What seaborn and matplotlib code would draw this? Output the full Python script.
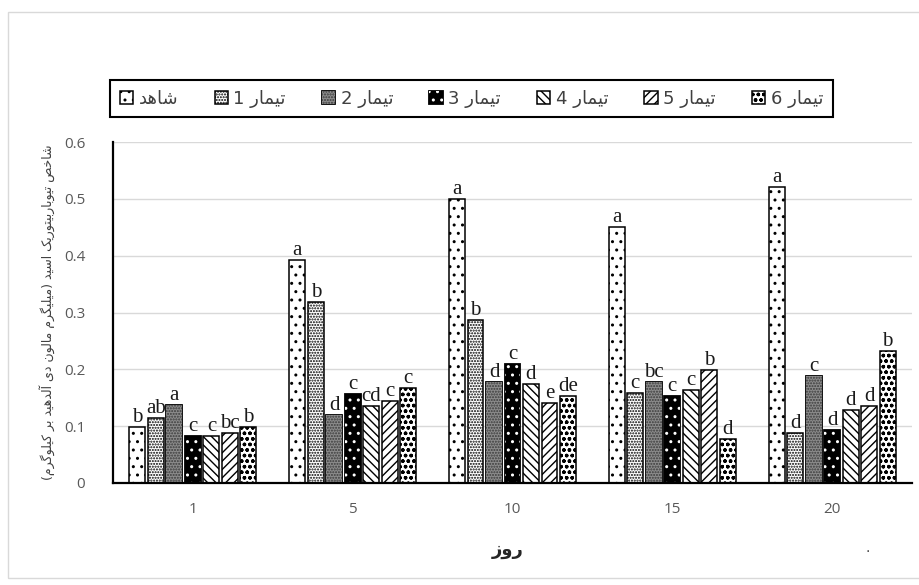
import numpy as np
import pandas as pd
import matplotlib
matplotlib.use('Agg')
import matplotlib.pyplot as plt
import matplotlib.patches as mpatches
import matplotlib.patheffects as pe
import seaborn as sns

# data
days = ['1', '5', '10', '15', '20']
treatments = ['شاهد', 'تیمار 1', 'تیمار 2', 'تیمار 3', 'تیمار 4', 'تیمار 5', 'تیمار 6']
control = [0.098, 0.392, 0.500, 0.451, 0.521]
t1 = [0.115, 0.318, 0.287, 0.158, 0.088]
t2 = [0.137, 0.120, 0.178, 0.177, 0.188]
t3 = [0.083, 0.157, 0.210, 0.153, 0.094]
t4 = [0.083, 0.136, 0.175, 0.163, 0.129]
t5 = [0.088, 0.145, 0.140, 0.198, 0.136]
t6 = [0.098, 0.168, 0.153, 0.078, 0.233]
letters = {
    'شاهد': ['b', 'a', 'a', 'a', 'a'],
    'تیمار 1': ['ab', 'b', 'b', 'c', 'd'],
    'تیمار 2': ['a', 'd', 'd', 'bc', 'c'],
    'تیمار 3': ['c', 'c', 'c', 'c', 'd'],
    'تیمار 4': ['c', 'cd', 'd', 'c', 'd'],
    'تیمار 5': ['bc', 'c', 'e', 'b', 'd'],
    'تیمار 6': ['b', 'c', 'de', 'd', 'b'],
}
y_ticks = [0, 0.1, 0.2, 0.3, 0.4, 0.5, 0.6]
y_ticklabels = ['0', '0.1', '0.2', '0.3', '0.4', '0.5', '0.6']
ylabel = 'شاخص تیوباربیتوریک اسید (میلیگرم مالون دی آلدهید بر کیلوگرم)'
xlabel = 'روز'

# --- minimal persian shaping (matplotlib has no bidi / joining) ---
FORMS = {  # isolated, final, initial, medial
    'ا': ('\uFE8D', '\uFE8E', None, None),
    'آ': ('\uFE81', '\uFE82', None, None),
    'ب': ('\uFE8F', '\uFE90', '\uFE91', '\uFE92'),
    'ت': ('\uFE95', '\uFE96', '\uFE97', '\uFE98'),
    'خ': ('\uFEA5', '\uFEA6', '\uFEA7', '\uFEA8'),
    'د': ('\uFEA9', '\uFEAA', None, None),
    'ر': ('\uFEAD', '\uFEAE', None, None),
    'ز': ('\uFEAF', '\uFEB0', None, None),
    'س': ('\uFEB1', '\uFEB2', '\uFEB3', '\uFEB4'),
    'ش': ('\uFEB5', '\uFEB6', '\uFEB7', '\uFEB8'),
    'ص': ('\uFEB9', '\uFEBA', '\uFEBB', '\uFEBC'),
    'ل': ('\uFEDD', '\uFEDE', '\uFEDF', '\uFEE0'),
    'م': ('\uFEE1', '\uFEE2', '\uFEE3', '\uFEE4'),
    'ن': ('\uFEE5', '\uFEE6', '\uFEE7', '\uFEE8'),
    'ه': ('\uFEE9', '\uFEEA', '\uFEEB', '\uFEEC'),
    'و': ('\uFEED', '\uFEEE', None, None),
    'ی': ('\uFEEF', '\uFEF0', '\uFEF3', '\uFEF4'),
    'ک': ('\uFB8E', '\uFB8F', '\uFB90', '\uFB91'),
    'گ': ('\uFB92', '\uFB93', '\uFB94', '\uFB95'),
}


def shape(text):
    out = []
    for i, c in enumerate(text):
        if c not in FORMS:
            out.append(c)
            continue
        prev = text[i - 1] if i > 0 else None
        nxt = text[i + 1] if i + 1 < len(text) else None
        jp = prev in FORMS and FORMS[prev][2] is not None
        jn = nxt in FORMS and FORMS[c][2] is not None
        if jp and jn:
            out.append(FORMS[c][3])
        elif jp:
            out.append(FORMS[c][1])
        elif jn:
            out.append(FORMS[c][2])
        else:
            out.append(FORMS[c][0])
    vis = ''.join(reversed(out))
    return vis.replace('(', '\0').replace(')', '(').replace('\0', ')')


def legend_label(name):
    # right-to-left label: the number sits on the left of the word
    parts = name.split(' ')
    word = [p for p in parts if not p.isdigit()]
    num = [p for p in parts if p.isdigit()]
    return ' '.join(num + [shape(w) for w in word])


df = pd.DataFrame({
    'day': np.tile(days, len(treatments)),
    'treatment': np.repeat(treatments, len(days)),
    'value': np.concatenate([control, t1, t2, t3, t4, t5, t6]),
})

# fill styles per series
FACES = ['white', 'white', '#8c8c8c', 'black', 'white', 'white', 'white']
HATCH = ['..', '......', '......', '..', '\\\\\\\\', '////', 'ooo']
EDGES = ['black', 'black', '#3a3a3a', 'white', 'black', 'black', 'black']


def style_patch(p, k):
    p.set_facecolor(FACES[k])
    p.set_edgecolor(EDGES[k])
    p.set_hatch(HATCH[k])
    p.set_linewidth(1.1)
    if k in (2, 3):
        p.set_linewidth(0)
        p.set_path_effects([pe.Stroke(linewidth=1.3, foreground='black'), pe.Normal()])


sns.set_style('white')
plt.rcParams['font.family'] = ['DejaVu Sans']
plt.rcParams['hatch.linewidth'] = 1.0

fig = plt.figure(figsize=(9.2, 5.85), dpi=100)
ax = fig.add_axes([113 / 920, 1 - 483 / 585, (912 - 113) / 920, (483 - 142) / 585])

sns.barplot(data=df, x='day', y='value', hue='treatment', order=days, hue_order=treatments,
            palette=['white'] * 7, width=0.81, gap=0.14, legend=False, ax=ax)

for k, (cont, name) in enumerate(zip(ax.containers, treatments)):
    for p in cont:
        style_patch(p, k)
    ax.bar_label(cont, labels=letters[name], padding=0, fontsize=15,
                 family='Liberation Serif', color='#1a1a1a')

ax.set_ylim(0, 0.6)
ax.set_yticks(y_ticks)
ax.set_yticklabels(y_ticklabels)
ax.set_xlabel('')
ax.set_ylabel('')
ax.grid(axis='y', color='#d9d9d9', linewidth=1)
ax.set_axisbelow(True)
for s in ['top', 'right']:
    ax.spines[s].set_visible(False)
ax.spines['left'].set_color('black')
ax.spines['left'].set_linewidth(1.6)
ax.spines['bottom'].set_color('black')
ax.spines['bottom'].set_linewidth(1.6)
ax.tick_params(axis='y', length=6, color='#bfbfbf', pad=14, labelsize=11, labelcolor='#595959')
ax.tick_params(axis='x', length=0, pad=14, labelsize=11, labelcolor='#595959')
for t in ax.get_xticklabels() + ax.get_yticklabels():
    t.set_family(['Open Sans', 'DejaVu Sans'])

fig.text(47 / 920, 1 - 312 / 585, shape(ylabel), rotation=90, ha='center', va='center',
         fontsize=9, color='#404040')
fig.text(508 / 920, 1 - 550 / 585, shape(xlabel), ha='center', va='center',
         fontsize=13, fontweight='bold', color='#262626')
fig.text(868 / 920, 1 - 548 / 585, '.', ha='center', va='center', fontsize=10, color='#404040')

# legend: swatch then label, control on the left
handles = []
for k in range(len(treatments)):
    h = mpatches.Patch()
    style_patch(h, k)
    handles.append(h)
leg = fig.legend(handles, [legend_label(t) for t in treatments],
                 loc='center', bbox_to_anchor=(110 / 920, 1 - 119 / 585, (833 - 110) / 920, 41 / 585),
                 mode='expand', ncol=7, markerfirst=True, frameon=True, fancybox=False,
                 edgecolor='black', framealpha=1, borderaxespad=0, fontsize=13,
                 handlelength=0.75, handleheight=0.75, handletextpad=0.3, borderpad=0.55)
leg.get_frame().set_linewidth(1.5)
for t in leg.get_texts():
    t.set_color('#404040')

# light outer border of the chart area
fig.patches.append(mpatches.Rectangle((8 / 920, 7 / 585), 2, 1 - 19 / 585, transform=fig.transFigure,
                                      fill=False, edgecolor='#d9d9d9', linewidth=1))

fig.savefig('out.png', dpi=100)
